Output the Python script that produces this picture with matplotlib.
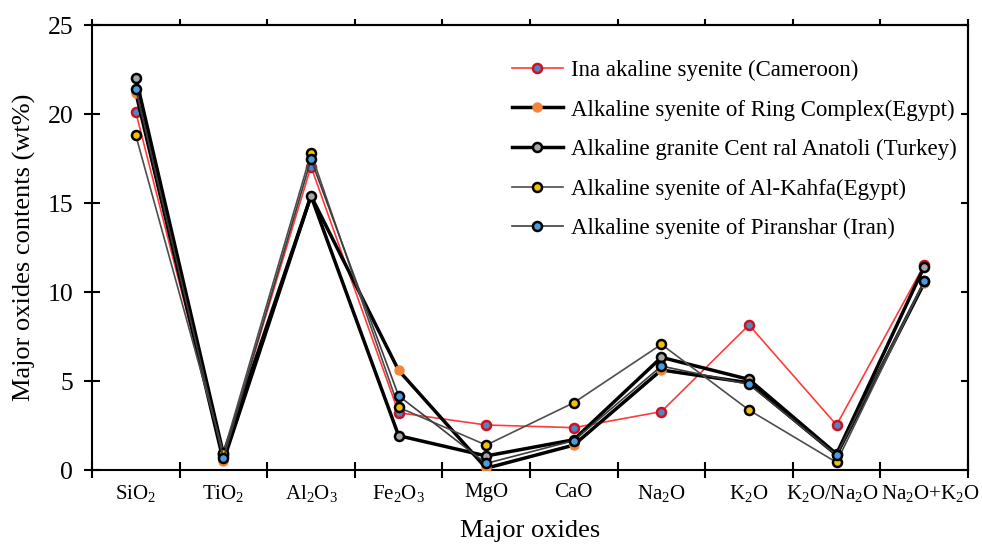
import numpy as np
import matplotlib
matplotlib.use("Agg")
import matplotlib.pyplot as plt
from matplotlib.transforms import ScaledTranslation

plt.rcParams['font.family'] = ['Liberation Serif', 'DejaVu Serif']
plt.rcParams['mathtext.fontset'] = 'custom'
plt.rcParams['mathtext.rm'] = 'Liberation Serif'
plt.rcParams['mathtext.it'] = 'Liberation Serif:italic'

# -- data -- #
oxides = [r'SiO$_\mathrm{2}$', r'TiO$_\mathrm{2}$', r'Al$_\mathrm{2}$O$_\mathrm{3}$',
          r'Fe$_\mathrm{2}$O$_\mathrm{3}$', 'MgO', 'CaO', r'Na$_\mathrm{2}$O',
          r'K$_\mathrm{2}$O', r'K$_\mathrm{2}$O/Na$_\mathrm{2}$O',
          r'Na$_\mathrm{2}$O+K$_\mathrm{2}$O']

cameroon = [20.1, 0.8, 17.05, 3.22, 2.53, 2.38, 3.28, 8.15, 2.53, 11.52]
ring_complex = [21.2, 0.5, 15.4, 5.6, 0.1, 1.4, 5.62, 4.9, 0.85, 10.5]
anatoli = [22.05, 0.9, 15.4, 1.93, 0.79, 1.7, 6.33, 5.09, 0.9, 11.42]
al_kahfa = [18.8, 0.95, 17.8, 3.52, 1.4, 3.78, 7.06, 3.37, 0.43, 10.6]
piranshar = [21.4, 0.65, 17.45, 4.17, 0.37, 1.65, 5.84, 4.81, 0.84, 10.62]

names = ['Ina akaline syenite (Cameroon)',
         'Alkaline syenite of Ring Complex(Egypt)',
         'Alkaline granite Cent ral Anatoli (Turkey)',
         'Alkaline syenite of Al-Kahfa(Egypt)',
         'Alkaline syenite of Piranshar (Iran)']

x = np.arange(len(oxides))

fig = plt.figure(figsize=(9.82, 5.44), dpi=100)
ax = fig.add_axes([0.0937, 0.136, 0.892, 0.818])

ax.plot(x, cameroon, color='#ff3b3b', lw=1.2, marker='o', ms=6.5,
        mfc='#4f86c6', mec='#d0101e', mew=1.8, label=names[0], zorder=3)
ax.plot(x, ring_complex, color='black', lw=2.5, marker='o', ms=6.5,
        mfc='#f0873a', mec='#f0873a', mew=1.0, label=names[1], zorder=3)
ax.plot(x, anatoli, color='black', lw=2.5, marker='o', ms=6.5,
        mfc='#a6a6a6', mec='black', mew=1.8, label=names[2], zorder=3)
ax.plot(x, al_kahfa, color='#4d4d4d', lw=1.2, marker='o', ms=6.5,
        mfc='#f5c000', mec='black', mew=1.8, label=names[3], zorder=3)
ax.plot(x, piranshar, color='#3d3d3d', lw=1.2, marker='o', ms=6.5,
        mfc='#4a9be0', mec='black', mew=1.8, label=names[4], zorder=3)

ax.set_xlim(-0.5, len(oxides) - 0.5)
ax.set_ylim(0, 25)

# ticks on category boundaries, labels at centres
bounds = np.arange(-0.5, len(oxides), 1.0)
ax.set_xticks(bounds)
ax.set_xticklabels([])
ax.set_xticks(x, minor=True)
ax.set_xticklabels(oxides, minor=True, fontsize=15)
ax.tick_params(axis='x', which='minor', length=0, pad=9)
ax.tick_params(axis='x', which='major', direction='inout', length=12, width=1.5)
ax.set_yticks(np.arange(0, 26, 5))
ax.tick_params(axis='y', direction='inout', length=11, width=1.5, labelsize=18.5, pad=8)

# last two labels are wide, nudge them apart a little like the original
labs = ax.get_xticklabels(minor=True)
for lab, dx in ((labs[-2], -4), (labs[-1], 6)):
    lab.set_transform(lab.get_transform() + ScaledTranslation(dx / 100, 0, fig.dpi_scale_trans))

top = ax.secondary_xaxis('top')
top.set_xticks(bounds)
top.set_xticklabels([])
top.tick_params(direction='out', length=4.5, width=1.5)
right = ax.secondary_yaxis('right')
right.set_yticks(np.arange(0, 26, 5))
right.set_yticklabels([])
right.tick_params(direction='in', length=5, width=1.5)

for sp in list(ax.spines.values()) + [top.spines['top'], right.spines['right']]:
    sp.set_linewidth(1.5)

ax.set_xlabel('Major oxides', fontsize=19, labelpad=12)
ax.set_ylabel('Major oxides contents (wt%)', fontsize=19, labelpad=8)

fig.legend(loc='upper left', bbox_to_anchor=(0.5, 0.928), frameon=False,
           fontsize=16.5, handlelength=2.25, labelspacing=0.8, handletextpad=0.35)

fig.savefig('out.png', dpi=100)
